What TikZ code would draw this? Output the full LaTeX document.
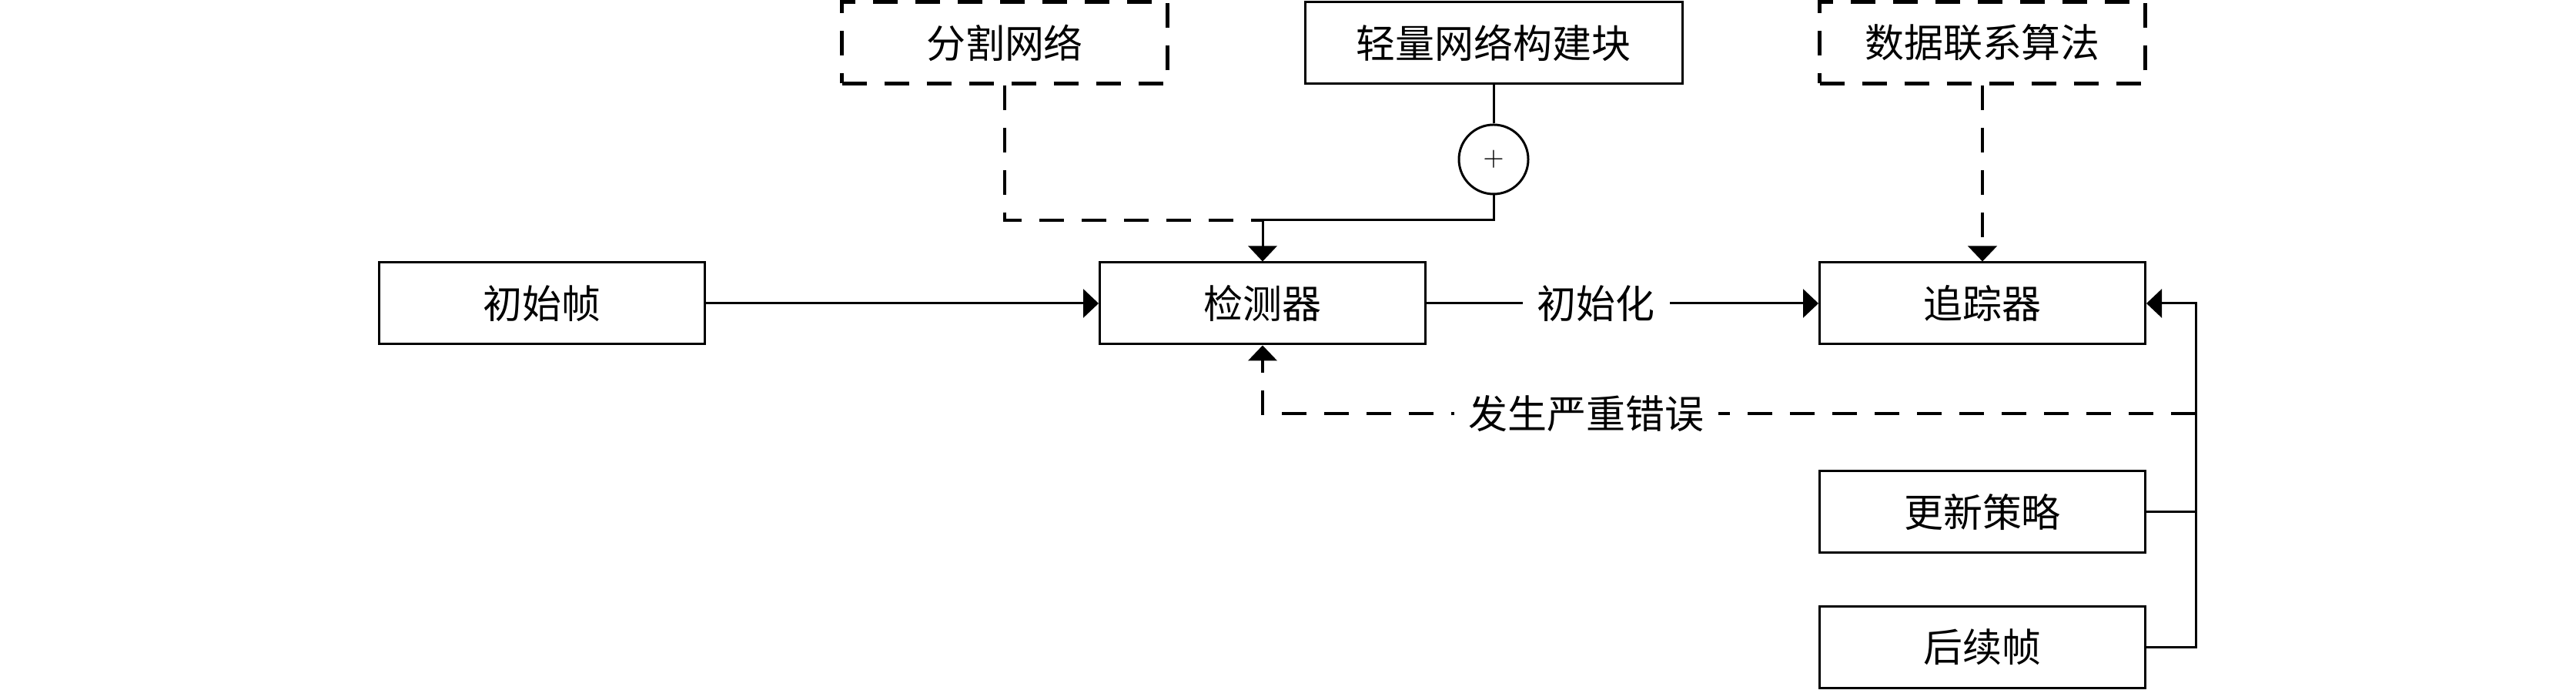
\documentclass[tikz,border=0pt]{standalone}
\usepackage{fontspec}
\setmainfont{Noto Sans CJK SC}
\usetikzlibrary{arrows.meta}

\begin{document}
\begin{tikzpicture}[
		box/.style={draw,line width=0.85pt,minimum width=4.23cm,minimum height=1.06cm,inner sep=0pt,font=\fontsize{14.5}{16}\selectfont},
		dbox/.style={box,line width=1.3pt,dash pattern=on 0.32cm off 0.23cm},
		conn/.style={line width=0.85pt,-{Triangle[length=0.2cm,width=0.37cm]}},
		dline/.style={line width=1.3pt,dash pattern=on 0.32cm off 0.23cm},
		lbl/.style={fill=white,inner xsep=0.19cm,inner ysep=0.05cm,font=\fontsize{14.5}{16}\selectfont}]
			\useasboundingbox (0,0) rectangle (33.46,8.96);
			% main row
			\node[box] (init) at (7.04,5.02) {初始帧};
			\node[box] (det) at (16.40,5.02) {检测器};
			\node[box] (trk) at (25.75,5.02) {追踪器};
			% top row
			\node[dbox] (seg) at (13.05,8.405) {分割网络};
			\node[box,minimum width=4.9cm] (light) at (19.40,8.405) {轻量网络构建块};
			\node[dbox] (assoc) at (25.75,8.405) {数据联系算法};
			\node[draw,circle,line width=0.85pt,minimum size=0.9cm,inner sep=0pt,font=\fontsize{10}{12}\selectfont] (plus) at (19.40,6.89) {$+$};
			% bottom right
			\node[box] (upd) at (25.75,2.31) {更新策略};
			\node[box] (next) at (25.75,0.555) {后续帧};
			\coordinate (merge) at (16.40,6.10);
			\coordinate (rail) at (28.52,5.02);
			\coordinate (err) at (28.52,3.59);
			% connectors
			\draw[conn] (init) -- (det);
			\draw[conn] (det) -- node[lbl,pos=0.433] {初始化} (trk);
			\draw[line width=0.85pt] (light) -- (plus);
			\draw[conn] (plus) |- (merge) -- (det);
			\draw[dline] (seg) |- (merge);
			\draw[dline,-{Triangle[length=0.2cm,width=0.37cm]}] (assoc) -- (trk);
			\draw[conn] (next.east) -- (next.east -| rail) -- (rail) -- (trk.east);
			\draw[line width=0.85pt] (upd.east) -- (upd.east -| rail);
			\draw[dline,-{Triangle[length=0.2cm,width=0.37cm]}] (err) -- node[lbl,pos=0.653] {发生严重错误} (err -| det) -- (det);
		\end{tikzpicture}
\end{document}
